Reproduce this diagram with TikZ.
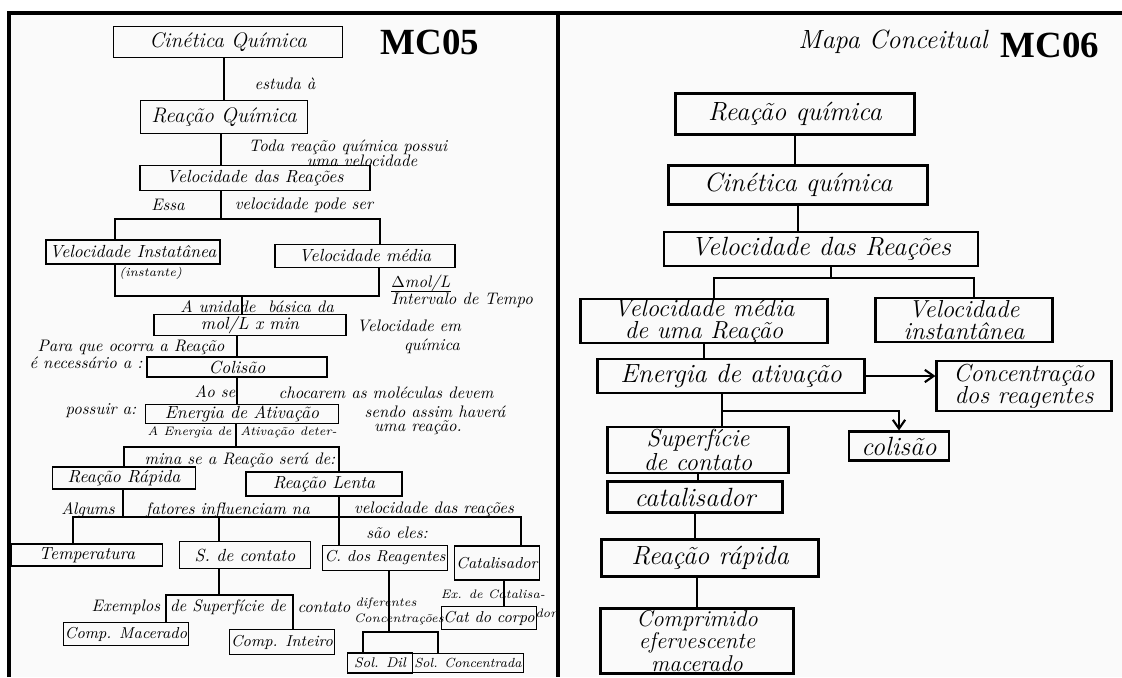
\documentclass[tikz,border=0pt]{standalone}
\usepackage{fontspec}
\newfontfamily\mcfont{Liberation Serif}
\usetikzlibrary{positioning, arrows.meta, calc}
\definecolor{PaperColor}{RGB}{250,250,250}

\begin{document}
\begin{tikzpicture}[
    x=0.02cm, y=-0.02cm,
    >={Straight Barb[length=5pt, width=7pt]},
    hand/.style={font=\fontsize{9.5}{10}\selectfont\itshape, inner sep=0pt},
    tinyhand/.style={font=\fontsize{7}{8}\selectfont\itshape, inner sep=0pt},
    box/.style={draw, line width=0.6pt, inner sep=1pt, font=\fontsize{10}{11}\selectfont\itshape},
    bigbox/.style={draw, line width=1.2pt, inner sep=0pt, align=center, font=\fontsize{15}{12.5}\selectfont\itshape},
    twoline/.style={font=\fontsize{14}{12.5}\selectfont\itshape},
    wh/.style 2 args={minimum width=#1*0.02cm, minimum height=#2*0.02cm},
    link/.style={line width=0.6pt},
    biglink/.style={line width=1.2pt},
    framing/.style={line width=2.4pt},
    mcname/.style={font=\mcfont\bfseries\fontsize{21}{21}\selectfont, inner sep=0pt},
]
\useasboundingbox (0,0) rectangle (1122,677);

% Paper and frame
\fill[PaperColor] (9,13) rectangle (1122,677);
\draw[framing] (9,677) -- (9,13) -- (1122,13);
\draw[framing] (558,13) -- (558,677);

% ---------------- MC05 ----------------
\node[mcname] (mc05) at (430,42) {MC05};

\node[box, wh={229}{31}, font=\fontsize{12}{13}\selectfont\itshape] (cq) at (228,42) {Cinética Química};
\node[hand] (estuda) at (285,84) {estuda à};
\node[box, wh={167}{33}, font=\fontsize{12}{13}\selectfont\itshape] (rq) at (224,117) {Reação Química};
\node[hand] (toda1) at (348,147) {Toda reação química possui};
\node[hand] (toda2) at (362,161) {uma velocidade};
\node[box, wh={230}{25}] (vr) at (255,178) {Velocidade das Reações};

\node[hand] (essa) at (168,205) {Essa};
\node[hand] (podeser) at (304,205) {velocidade pode ser};
\node[box, wh={174}{24}] (vi) at (133,252) {Velocidade Instatânea};
\node[tinyhand, anchor=west] (inst) at (119,273) {(instante)};
\node[box, wh={180}{23}] (vm) at (365,256) {Velocidade média};
\node[hand, anchor=west] (dmol) at (391,283) {$\Delta$mol/L};
\node[hand, anchor=west] (interv) at (391,300) {Intervalo de Tempo};

\node[hand] (unid1) at (218,307) {A unidade};
\node[hand] (unid2) at (301,307) {básica da};
\node[box, wh={192}{20}] (mol) at (250,325) {mol/L x min};
\node[hand] (vem1) at (409,326) {Velocidade em};
\node[hand] (vem2) at (432,346) {química};
\node[hand] (para1) at (131,347) {Para que ocorra a Reação};
\node[hand] (para2) at (86,363) {é necessário a :};
\node[box, wh={180}{20}] (col) at (237,367) {Colisão};

\node[hand] (aose) at (215,392) {Ao se};
\node[hand] (choc) at (386,393) {chocarem as moléculas devem};
\node[hand] (poss) at (101,411) {possuir a:};
\node[box, wh={193}{19}] (ea) at (242,414) {Energia de Ativação};
\node[hand] (sendo1) at (435,412) {sendo assim haverá};
\node[hand] (sendo2) at (418,428) {uma reação.};
\node[tinyhand, anchor=east] (aen1) at (232,432) {A Energia de};
\node[tinyhand, anchor=west] (aen2) at (240,432) {Ativação deter-};
\node[hand] (mina) at (240,460) {mina se a Reação será de:};
\node[box, wh={143}{22}] (rr) at (124,478) {Reação Rápida};
\node[box, wh={156}{24}] (rl) at (324,484) {Reação Lenta};

\node[hand] (alg1) at (88,510) {Algums};
\node[hand] (alg2) at (228,510) {fatores influenciam na};
\node[hand] (alg3) at (434,509) {velocidade das reações};
\node[hand] (saoeles) at (397,533) {são eles:};
\node[box, wh={151}{22}] (temp) at (87,555) {Temperatura};
\node[box, wh={131}{27}] (sc) at (245,555) {S. de contato};
\node[box, wh={119}{25}, font=\fontsize{9}{10}\selectfont\itshape] (cr) at (385,558) {C. dos Reagentes};
\node[box, wh={84}{34}, font=\fontsize{9}{10}\selectfont\itshape] (cat) at (497,563) {Catalisador};

\node[hand] (ex1) at (126,607) {Exemplos};
\node[hand] (ex2) at (228,607) {de Superfície de};
\node[hand] (ex3) at (324,607) {contato};
\node[box, wh={116}{23}, font=\fontsize{9}{10}\selectfont\itshape] (cmac) at (126,634) {Comp. Macerado};
\node[box, wh={96}{25}, font=\fontsize{9}{10}\selectfont\itshape] (cint) at (282,642) {Comp. Inteiro};
\node[tinyhand] (dif1) at (386,603) {diferentes};
\node[tinyhand] (dif2) at (399,619) {Concentrações};
\node[box, wh={65}{20}, font=\fontsize{8}{9}\selectfont\itshape] (sdil) at (380,663) {Sol. Dil};
\node[box, wh={104}{19}, font=\fontsize{7.5}{8}\selectfont\itshape] (sconc) at (468,663) {Sol. Concentrada};
\node[tinyhand] (excat) at (493,594) {Ex. de Catalisa-};
\node[tinyhand] (excat2) at (546,613) {dor};
\node[box, wh={89}{23}, font=\fontsize{9}{10}\selectfont\itshape] (catc) at (489,618) {Cat do corpo};

% bar points
\coordinate (b1) at (221,219);
\coordinate (b1l) at (115,219);
\coordinate (b1r) at (380,219);
\coordinate (b2) at (242,296);
\coordinate (b2l) at (115,296);
\coordinate (b2r) at (379,296);
\coordinate (b3) at (236,447);
\coordinate (b3l) at (124,447);
\coordinate (b3r) at (339,447);
\coordinate (b4) at (123,517);
\coordinate (b4l) at (73,517);
\coordinate (b4s) at (219,517);
\coordinate (b4c) at (339,517);
\coordinate (b4r) at (521,517);
\coordinate (b5) at (219,595);
\coordinate (b5l) at (166,595);
\coordinate (b5r) at (293,595);
\coordinate (b6) at (389,632);
\coordinate (b6l) at (363,632);
\coordinate (b6r) at (438,632);
\coordinate (b7) at (504,600);

% Connectors
\draw[link] (rq.north |- cq.south) -- (rq.north);
\draw[link] (rq.south -| b1) -- (vr.north -| b1);
\draw[link] (vr.south -| b1) -- (b1);
\draw[link] (vi.north -| b1l) |- (b1r) -- (vm.north -| b1r);
\draw[link] (vi.south -| b2l) |- (b2r) -- (vm.south -| b2r);
\draw[link] (dmol.south west) -- (dmol.south east);
\draw[link] (b2) -- (mol.north -| b2);
\draw[link] (col.north |- mol.south) -- (col.north);
\draw[link] (col.south) -- (col.south |- ea.north);
\draw[link] (ea.south -| b3) -- (b3);
\draw[link] (rr.north -| b3l) |- (b3r) -- (rl.north -| b3r);
\draw[link] (rr.south -| b4) -- (b4);
\draw[link] (temp.north -| b4l) |- (b4r) -- (cat.north -| b4r);
\draw[link] (b4s) -- (sc.north -| b4s);
\draw[link] (rl.south -| b4c) -- (cr.north -| b4c);
\draw[link] (sc.south -| b5) -- (b5);
\draw[link] (cmac.north -| b5l) |- (b5r) -- (cint.north -| b5r);
\draw[link] (cr.south -| b6) -- (b6);
\draw[link] (sdil.north -| b6l) |- (b6r) -- (sconc.north -| b6r);
\draw[link] (cat.south -| b7) -- (catc.north -| b7);

% ---------------- MC06 ----------------
\node[font=\fontsize{15}{16}\selectfont\itshape] (titulo) at (893,42) {Mapa Conceitual};
\node[mcname] (mc06) at (1050,45) {MC06};

\node[bigbox, wh={239}{41}] (rq2) at (795,114) {Reação química};
\node[bigbox, wh={259}{39}] (cq2) at (798,185) {Cinética química};
\node[bigbox, wh={314}{34}] (vr2) at (821,249) {Velocidade das Reações};
\node[bigbox, twoline, wh={247}{42}] (vm2) at (704,321) {Velocidade média\\de uma Reação};
\node[bigbox, twoline, wh={177}{44}] (vi2) at (964,320) {Velocidade\\instantânea};
\node[bigbox, wh={267}{34}] (ea2) at (731,376) {Energia de ativação};
\node[bigbox, twoline, wh={175}{50}] (conc) at (1024,386) {Concentração\\dos reagentes};
\node[bigbox, twoline, wh={181}{46}] (sup) at (698,450) {Superfície\\de contato};
\node[bigbox, wh={100}{29}] (col2) at (899,446) {colisão};
\node[bigbox, wh={175}{31}] (cat2) at (695,497) {catalisador};
\node[bigbox, wh={217}{37}] (rr2) at (710,558) {Reação rápida};
\node[bigbox, wh={193}{65}, font=\fontsize{13}{11.5}\selectfont\itshape] (comp) at (697,641) {Comprimido\\efervescente\\macerado};

\coordinate (b8) at (831,278);
\coordinate (b8l) at (714,278);
\coordinate (b8r) at (974,278);
\coordinate (b9) at (722,411);

\draw[biglink] (rq2.south) -- (rq2.south |- cq2.north);
\draw[biglink] (cq2.south) -- (cq2.south |- vr2.north);
\draw[biglink] (vr2.south -| b8) -- (b8);
\draw[biglink] (vm2.north -| b8l) |- (b8r) -- (vi2.north -| b8r);
\draw[biglink] (vm2.south) -- (vm2.south |- ea2.north);
\draw[biglink, ->] (ea2.east) -- (ea2.east -| conc.west);
\draw[biglink] (ea2.south -| b9) -- (sup.north -| b9);
\draw[biglink, ->] (b9) -| (col2.north);
\draw[biglink] (sup.south) -- (sup.south |- cat2.north);
\draw[biglink] (cat2.south) -- (cat2.south |- rr2.north);
\draw[biglink] (comp.north |- rr2.south) -- (comp.north);

\end{tikzpicture}
\end{document}
